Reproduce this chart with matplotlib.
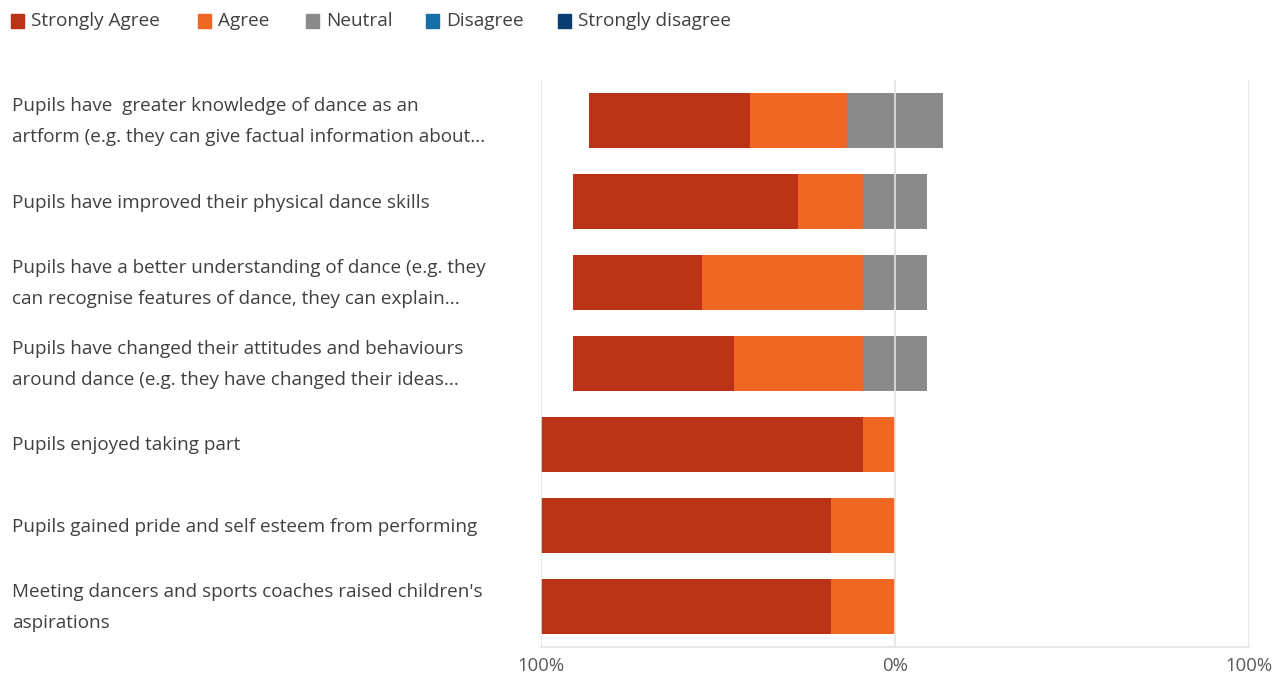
import matplotlib.pyplot as plt
import numpy as np
from matplotlib.patches import Rectangle

plt.rcParams['font.family'] = ['Open Sans', 'DejaVu Sans']

# Survey statements (top to bottom)
labels = [
    "Pupils have  greater knowledge of dance as an\nartform (e.g. they can give factual information about...",
    "Pupils have improved their physical dance skills",
    "Pupils have a better understanding of dance (e.g. they\ncan recognise features of dance, they can explain...",
    "Pupils have changed their attitudes and behaviours\naround dance (e.g. they have changed their ideas...",
    "Pupils enjoyed taking part",
    "Pupils gained pride and self esteem from performing",
    "Meeting dancers and sports coaches raised children's\naspirations",
]

# Percentages per response
strongly_agree = [45.5, 63.6, 36.4, 45.5, 90.9, 81.8, 81.8]
agree = [27.3, 18.2, 45.5, 36.4, 9.1, 18.2, 18.2]
neutral = [27.3, 18.2, 18.2, 18.2, 0, 0, 0]
disagree = [0, 0, 0, 0, 0, 0, 0]
strongly_disagree = [0, 0, 0, 0, 0, 0, 0]

series_names = ["Strongly Agree", "Agree", "Neutral", "Disagree", "Strongly disagree"]
colors = ['#BB3317', '#F06724', '#8A8A8A', '#1670A8', '#073F73']

fig = plt.figure(figsize=(12.85, 6.73), dpi=100)
ax = fig.add_axes([541 / 1285, 1 - 647 / 673, 708 / 1285, 567 / 673])

sa = np.array(strongly_agree)
ag = np.array(agree)
ne = np.array(neutral)
di = np.array(disagree)
sd = np.array(strongly_disagree)
y = np.arange(len(labels))

# diverging layout: agreement to the left of zero, neutral split across zero
start = -(sa + ag + ne / 2)
h = 0.667
ax.barh(y, sa, left=start, height=h, color=colors[0], zorder=1)
ax.barh(y, ag, left=start + sa, height=h, color=colors[1], zorder=1)
ax.barh(y, ne, left=-ne / 2, height=h, color=colors[2], zorder=1)
ax.barh(y, di, left=ne / 2, height=h, color=colors[3], zorder=1)
ax.barh(y, sd, left=ne / 2 + di, height=h, color=colors[4], zorder=1)

ax.set_xlim(-100, 100)
ax.set_ylim(len(labels) - 0.5, -0.5)
ax.set_xticks([-100, 0, 100])
ax.set_xticklabels(["100%", "0%", "100%"], fontsize=13.3, color='#595959')
ax.set_yticks([])
for xv in [-100, 0, 100]:
    ax.axvline(xv, color='#E3E3E3', lw=1.2, zorder=3)
for side in ['top', 'left', 'right']:
    ax.spines[side].set_visible(False)
ax.spines['bottom'].set_color('#E3E3E3')
ax.spines['bottom'].set_linewidth(1.2)
ax.tick_params(axis='x', length=0, pad=7)

# category labels, left aligned at figure edge
for i, lab in enumerate(labels):
    fig.text(12 / 1285, 1 - (121.5 + 81 * i) / 673, lab, ha='left', va='center',
             fontsize=13.6, color='#404040', linespacing=1.87)

# legend across the top
leg_x = [17, 204, 312, 432, 564]
for name, col, lx in zip(series_names, colors, leg_x):
    fig.patches.append(Rectangle(((lx - 6.5) / 1285, 1 - 27.5 / 673), 13 / 1285, 13 / 673,
                                 transform=fig.transFigure, color=col))
    fig.text((lx + 14) / 1285, 1 - 21 / 673, name, ha='left', va='center',
             fontsize=13.7, color='#404040')

fig.savefig('out.png', dpi=100)
